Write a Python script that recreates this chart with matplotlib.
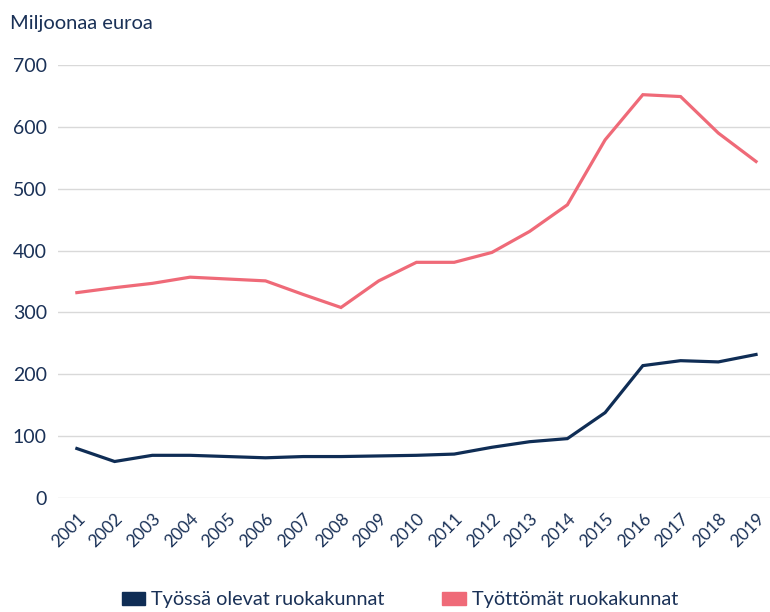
import matplotlib.pyplot as plt
from matplotlib.patches import Patch

years = list(range(2001, 2020))
tyossa = [80, 59, 69, 69, 67, 65, 67, 67, 68, 69, 71, 82, 91, 96, 138, 214, 222, 220, 232]
tyottomat = [332, 340, 347, 357, 354, 351, 329, 308, 351, 381, 381, 397, 431, 474, 579, 652, 649, 590, 544]
yticks = [0, 100, 200, 300, 400, 500, 600, 700]

navy = '#0f2d55'
red = '#ef6a78'
text_col = '#1a3157'

plt.rcParams['font.family'] = ['Lato', 'DejaVu Sans']

fig = plt.figure(figsize=(7.7, 6.12), dpi=100)
ax = fig.add_axes([58 / 770, 1 - 498 / 612, 1 - 58 / 770, (498 - 65) / 612])

ax.plot(years, tyossa, color=navy, lw=2.3, solid_joinstyle='miter', clip_on=False, zorder=3)
ax.plot(years, tyottomat, color=red, lw=2.3, solid_joinstyle='miter', clip_on=False, zorder=3)

ax.set_xlim(2000.5, 2019.37)
ax.set_ylim(0, 700)
ax.set_yticks(yticks)
ax.set_xticks(years)
ax.set_xticklabels([str(y) for y in years], rotation=45, ha='right', va='top',
                   rotation_mode='anchor', fontsize=12.5, color=text_col)
ax.tick_params(axis='y', labelsize=14, labelcolor=text_col, length=0, pad=8)
ax.tick_params(axis='x', length=0, pad=9)
ax.grid(axis='y', color='#d9d9d9', lw=1)
ax.set_axisbelow(True)
for s in ax.spines.values():
    s.set_visible(False)

fig.text(10 / 770, 1 - 24 / 612, 'Miljoonaa euroa', fontsize=14.5, color=text_col, va='center', ha='left')

handles = [Patch(color=navy, label='Työssä olevat ruokakunnat'),
           Patch(color=red, label='Työttömät ruokakunnat')]
fig.legend(handles=handles, loc='center', bbox_to_anchor=(400 / 770, 1 - 600 / 612), ncol=2,
           frameon=False, fontsize=14.3, labelcolor=text_col, handlelength=1.2, handleheight=0.6,
           handletextpad=0.3, columnspacing=2.9)

fig.savefig('out.png', dpi=100)
